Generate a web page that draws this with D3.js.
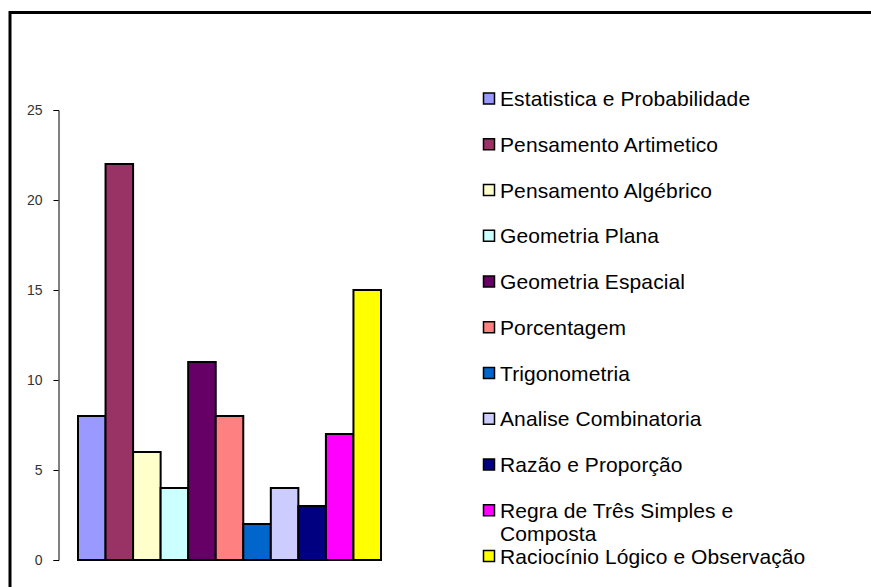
<!DOCTYPE html>
<html>
<head>
<meta charset="utf-8">
<script src="https://cdn.jsdelivr.net/npm/d3@7"></script>
<style>
  html, body { margin: 0; padding: 0; background: #fff; }
  svg { display: block; }
  text { font-family: "Liberation Sans", Arial, sans-serif; }
</style>
</head>
<body>
<script>
// Topics and how many questions fell into each
const categories = [
  "Estatistica e Probabilidade",
  "Pensamento Artimetico",
  "Pensamento Algébrico",
  "Geometria Plana",
  "Geometria Espacial",
  "Porcentagem",
  "Trigonometria",
  "Analise Combinatoria",
  "Razão e Proporção",
  "Regra de Três Simples e Composta",
  "Raciocínio Lógico e Observação"
];
const values = [8, 22, 6, 4, 11, 8, 2, 4, 3, 7, 15];
const colors = [
  "#9999FF", "#993366", "#FFFFCC", "#CCFFFF", "#660066", "#FF8080",
  "#0066CC", "#CCCCFF", "#000080", "#FF00FF", "#FFFF00"
];
const yTicks = [0, 5, 10, 15, 20, 25];

const W = 871, H = 587;
const svg = d3.select("body").append("svg").attr("width", W).attr("height", H);

// Chart area frame (runs off the right and bottom edges)
svg.append("rect")
  .attr("x", 10).attr("y", 12.5)
  .attr("width", W + 20).attr("height", H + 20)
  .attr("fill", "none").attr("stroke", "#000").attr("stroke-width", 3);

const plot = { left: 78, right: 381, top: 110, bottom: 560 };

const x = d3.scaleBand()
  .domain(categories)
  .range([plot.left, plot.right])
  .padding(0);

const y = d3.scaleLinear()
  .domain([0, 25])
  .range([plot.bottom, plot.top]);

// Value axis
const yAxis = d3.axisLeft(y).tickValues(yTicks).tickSize(5).tickPadding(11);
const gy = svg.append("g")
  .attr("transform", "translate(58.5,0)")
  .call(yAxis);
gy.select(".domain").attr("stroke", "#000").attr("stroke-width", 1);
gy.selectAll(".tick line").attr("stroke", "#000");
gy.selectAll(".tick text")
  .attr("fill", "#333")
  .style("font-size", "14px")
  .style("font-family", "'Liberation Sans', Arial, sans-serif");

// Bars
svg.append("g").selectAll("rect")
  .data(categories)
  .join("rect")
  .attr("x", d => x(d))
  .attr("y", (d, i) => y(values[i]))
  .attr("width", x.bandwidth())
  .attr("height", (d, i) => y(0) - y(values[i]))
  .attr("fill", (d, i) => colors[i])
  .attr("stroke", "#000")
  .attr("stroke-width", 2);

// Legend
const legend = svg.append("g").attr("transform", "translate(483,0)");
const rowY = d3.scaleLinear().domain([0, 10]).range([98.5, 556]);

const item = legend.selectAll("g")
  .data(categories)
  .join("g")
  .attr("transform", (d, i) => `translate(0,${rowY(i)})`);

item.append("rect")
  .attr("x", 0.5).attr("y", -5.5)
  .attr("width", 11).attr("height", 11)
  .attr("fill", (d, i) => colors[i])
  .attr("stroke", "#000")
  .attr("stroke-width", 1.5);

item.append("text")
  .attr("x", 17)
  .attr("y", 7.5)
  .attr("fill", "#000")
  .style("font-size", "21px")
  .style("letter-spacing", "0.1px")
  .each(function (d) {
    const t = d3.select(this);
    if (d === "Regra de Três Simples e Composta") {
      t.append("tspan").attr("x", 17).attr("dy", 0).text("Regra de Três Simples e");
      t.append("tspan").attr("x", 17).attr("dy", 23).text("Composta");
    } else {
      t.text(d);
    }
  });
</script>
</body>
</html>
